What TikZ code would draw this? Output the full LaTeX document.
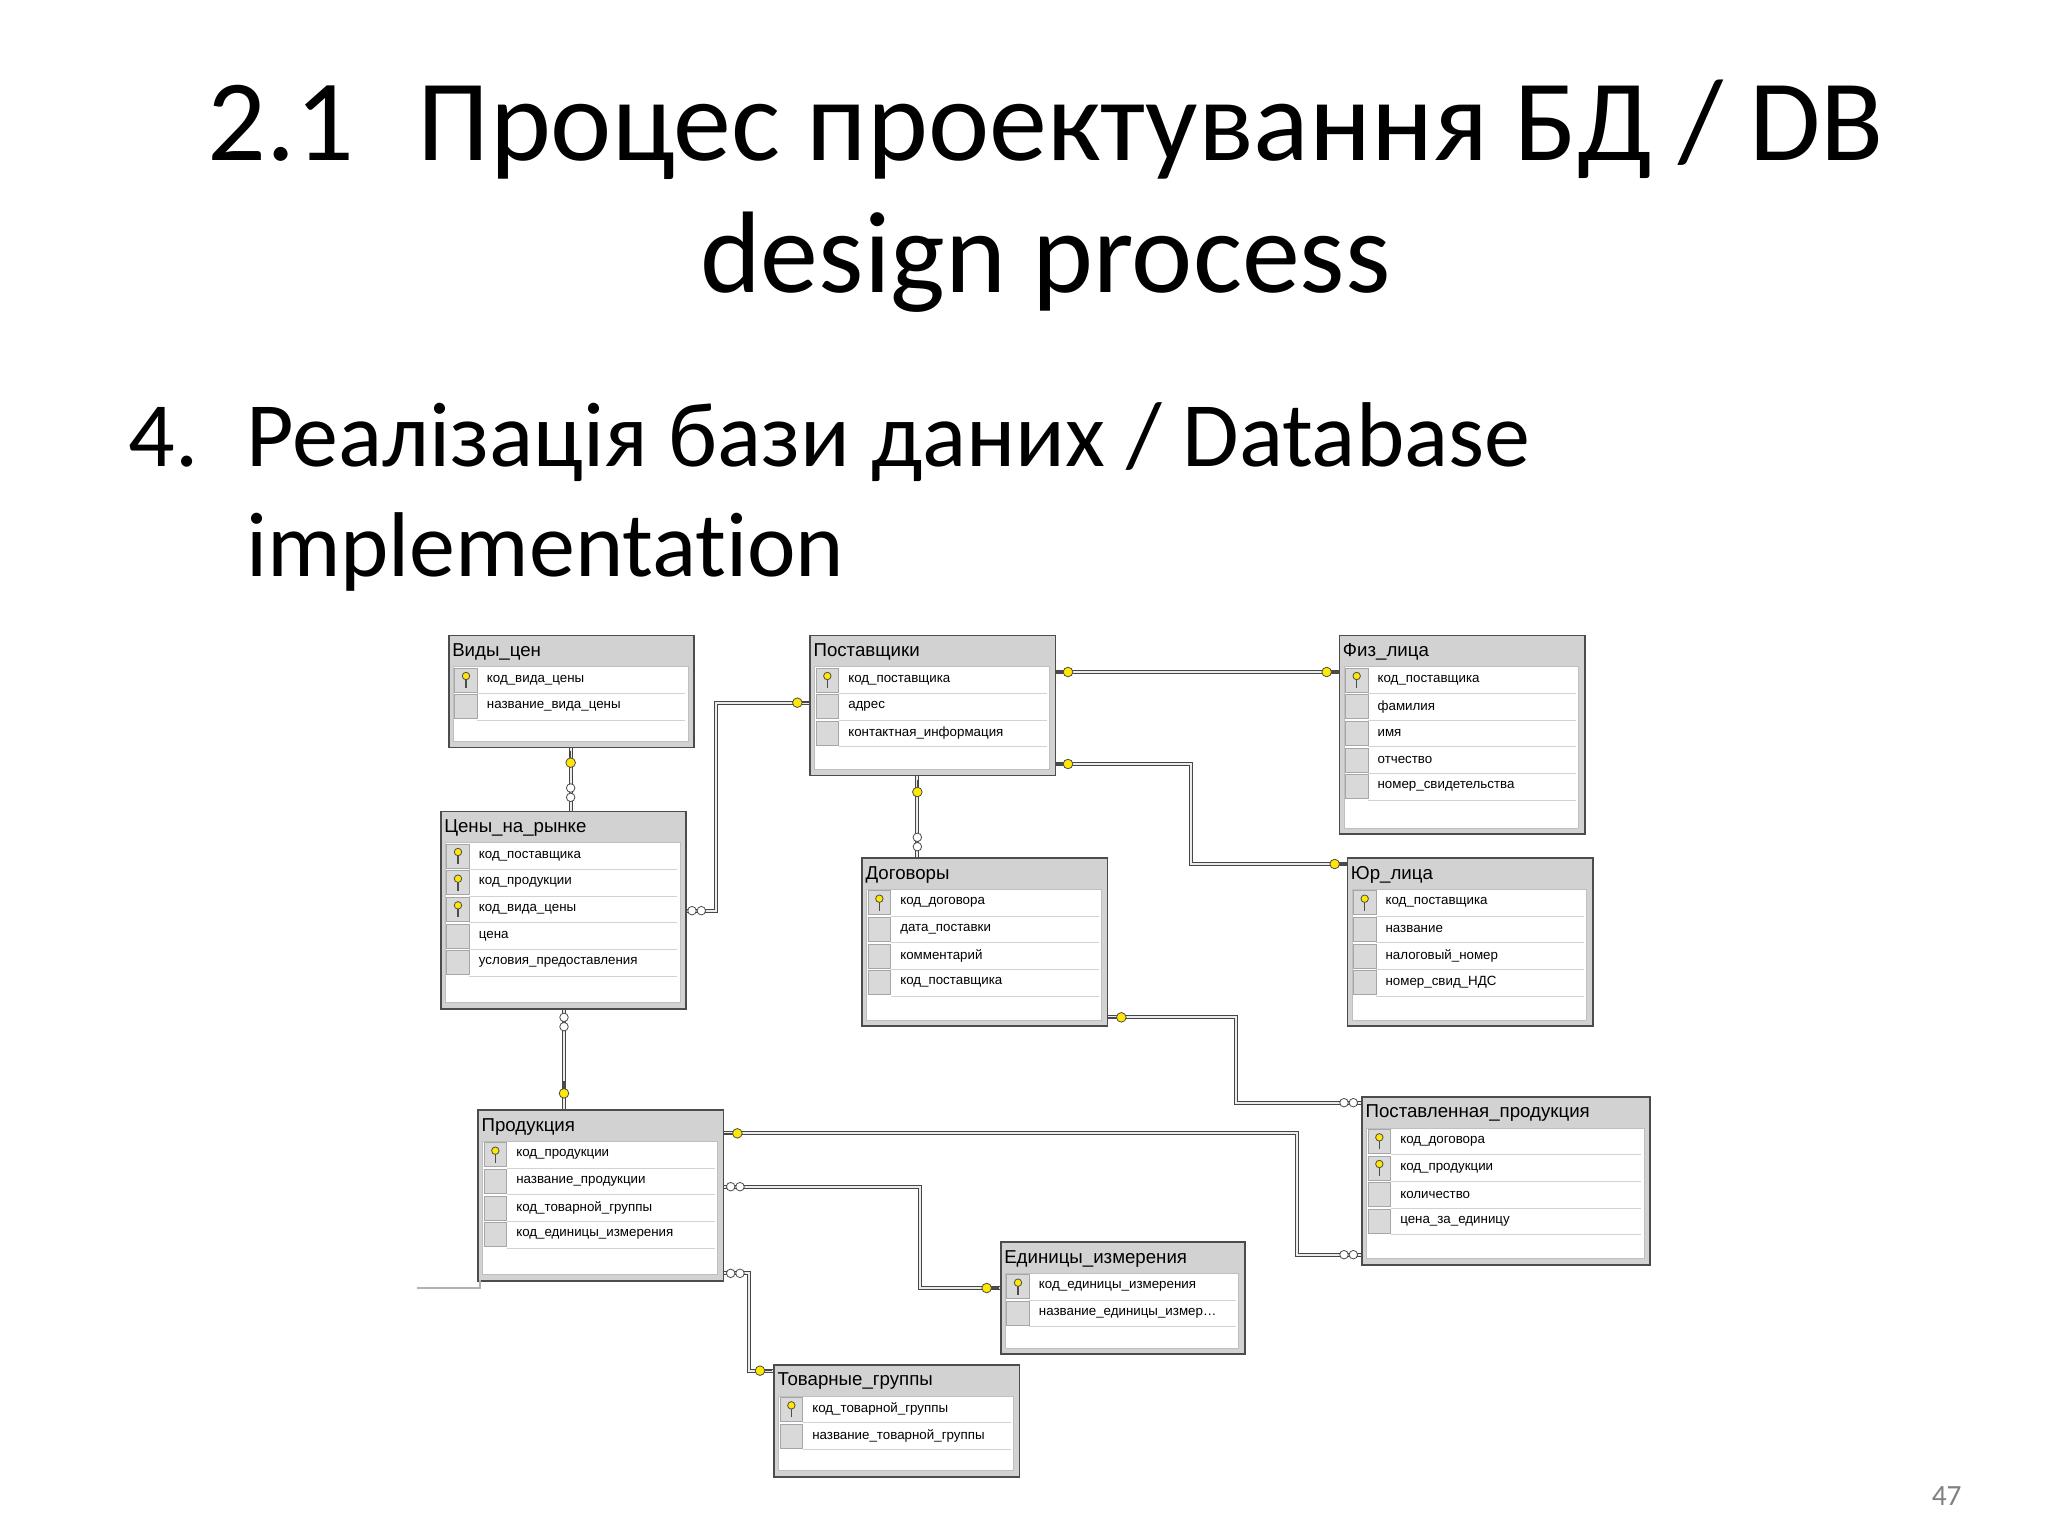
\documentclass[tikz,border=0pt]{standalone}
\usepackage{fontspec}
\setmainfont[Ligatures=NoCommon]{Carlito}
\newfontfamily\tblfont{Liberation Sans}
\begin{document}
\begin{tikzpicture}[x=1pt,y=-1pt,
  tblbox/.style={draw=gray!60!black,line width=1.2pt,fill=gray!35,inner sep=0pt},
  rel/.style={draw=gray!55!black,line width=0.9pt,double=gray!15,double distance=1.3pt},
  pkm/.style={fill=yellow!90!orange,draw=black!70,line width=0.6pt},
  infm/.style={fill=white,draw=black!70,line width=0.6pt}]
\useasboundingbox (0,0) rectangle (1536,1152);
\fill[white] (0,0) rectangle (1536,1152);
\node[font=\fontsize{87}{96}\selectfont] (t1) at (784,97) {2.1\hspace{0.55em}Процес проектування БД / DB};
\node[font=\fontsize{87}{96}\selectfont] (t2) at (784,197) {design process};
\node[font=\fontsize{69}{76}\selectfont,anchor=base west] (n4) at (93,350) {4.};
\node[font=\fontsize{69}{76}\selectfont,anchor=base west] (s1) at (181,350) {Реалізація бази даних / Database};
\node[font=\fontsize{69}{76}\selectfont,anchor=base west] (s2) at (181,432) {implementation};
\node[font=\fontsize{22}{26}\selectfont,text=gray] (pg) at (1460,1122) {47};
\newcommand\dbt[7]{%
 \node[tblbox,anchor=north west,minimum width=#4pt,minimum height=#5pt] (#1) at (#2,#3) {};
 \fill[white,draw=gray!50] ({#2+4},{#3+24}) rectangle ({#2+#4-4},{#3+#5-4});
 \node[anchor=west,inner sep=0pt,font=\tblfont\fontsize{14}{16}\selectfont] at ({#2+3},{#3+13}) {#6};
 \foreach \k/\t [count=\i] in {#7} {
   \fill[gray!30,draw=gray!70] ({#2+5},{#3+25+(\i-1)*20}) rectangle ({#2+22},{#3+43+(\i-1)*20});
   \draw[gray!35] ({#2+22},{#3+44+(\i-1)*20}) -- ({#2+#4-6},{#3+44+(\i-1)*20});
   \node[anchor=west,inner sep=0pt,font=\tblfont\fontsize{10}{12}\selectfont] at ({#2+29},{#3+34+(\i-1)*20}) {\t};
   \if\k k
     \draw[black!70,line width=1pt] ({#2+13.5},{#3+31+(\i-1)*20}) -- ({#2+13.5},{#3+40+(\i-1)*20});
     \fill[pkm] ({#2+13.5},{#3+31+(\i-1)*20}) circle (2.8);
   \fi
 }}
\dbt{vidy}{336}{476}{184}{84}{Виды\_цен}{k/код\_вида\_цены,n/название\_вида\_цены}
\dbt{post}{607}{476}{184}{105}{Поставщики}{k/код\_поставщика,n/адрес,n/контактная\_информация}
\dbt{fiz}{1004}{476}{184}{149}{Физ\_лица}{k/код\_поставщика,n/фамилия,n/имя,n/отчество,n/номер\_свидетельства}
\dbt{ceny}{330}{608}{184}{148}{Цены\_на\_рынке}{k/код\_поставщика,k/код\_продукции,k/код\_вида\_цены,n/цена,n/условия\_предоставления}
\dbt{dog}{646}{643}{184}{126}{Договоры}{k/код\_договора,n/дата\_поставки,n/комментарий,n/код\_поставщика}
\dbt{yur}{1010}{643}{184}{126}{Юр\_лица}{k/код\_поставщика,n/название,n/налоговый\_номер,n/номер\_свид\_НДС}
\dbt{prod}{358}{832}{184}{128}{Продукция}{k/код\_продукции,n/название\_продукции,n/код\_товарной\_группы,n/код\_единицы\_измерения}
\dbt{postp}{1021}{822}{216}{126}{Поставленная\_продукция}{k/код\_договора,k/код\_продукции,n/количество,n/цена\_за\_единицу}
\dbt{edin}{750}{931}{183}{84}{Единицы\_измерения}{k/код\_единицы\_измерения,n/{название\_единицы\_измер\ldots}}
\dbt{tov}{580}{1023}{184}{84}{Товарные\_группы}{k/код\_товарной\_группы,n/название\_товарной\_группы}
\draw[gray!60,line width=1pt] (313,966) -- (360,966) -- (360,960);
% connectors
\draw[rel] (vidy.south -| 428,0) -- (ceny.north -| 428,0);
\draw[rel] (post.west |- 0,527) -- (537,527) -- (537,683) -- (ceny.east |- 0,683);
\draw[rel] (post.east |- 0,504) -- (fiz.west |- 0,504);
\draw[rel] (post.east |- 0,573) -- (893,573) -- (893,648) -- (yur.west |- 0,648);
\draw[rel] (post.south -| 688,0) -- (dog.north -| 688,0);
\draw[rel] (dog.east |- 0,763) -- (927,763) -- (927,827) -- (postp.west |- 0,827);
\draw[rel] (ceny.south -| 423,0) -- (prod.north -| 423,0);
\draw[rel] (prod.east |- 0,850) -- (973,850) -- (973,941) -- (postp.west |- 0,941);
\draw[rel] (prod.east |- 0,890) -- (690,890) -- (690,966) -- (edin.west |- 0,966);
\draw[rel] (prod.east |- 0,955) -- (562,955) -- (562,1028) -- (tov.west |- 0,1028);
% markers
\newcommand\pkv[2]{\draw[black!70,line width=1pt] (#1,{#2-9}) -- (#1,#2); \fill[pkm] (#1,#2) circle (3.6);}
\newcommand\pkh[3]{\draw[black!70,line width=1pt] (#1,#2) -- ({#1+#3},#2); \fill[pkm] (#1,#2) circle (3.6);}
\newcommand\infv[2]{\fill[infm] (#1,#2) circle (3.2); \fill[infm] (#1,{#2+7}) circle (3.2);}
\newcommand\infh[2]{\fill[infm] (#1,#2) circle (3.2); \fill[infm] ({#1+7},#2) circle (3.2);}
\pkv{428}{572}\infv{428}{591}
\pkh{598}{527}{9}\infh{519}{683}
\pkh{801}{504}{-9}\pkh{995}{504}{9}
\pkh{801}{573}{-9}\pkh{1001}{648}{9}
\pkv{688}{594}\infv{688}{628}
\pkh{841}{763}{-10}\infh{1008}{827}
\infv{423}{763}\pkv{423}{820}
\pkh{553}{850}{-10}\infh{1008}{941}
\infh{548}{890}\pkh{740}{966}{9}
\infh{548}{955}\pkh{570}{1028}{9}
\end{tikzpicture}
\end{document}
